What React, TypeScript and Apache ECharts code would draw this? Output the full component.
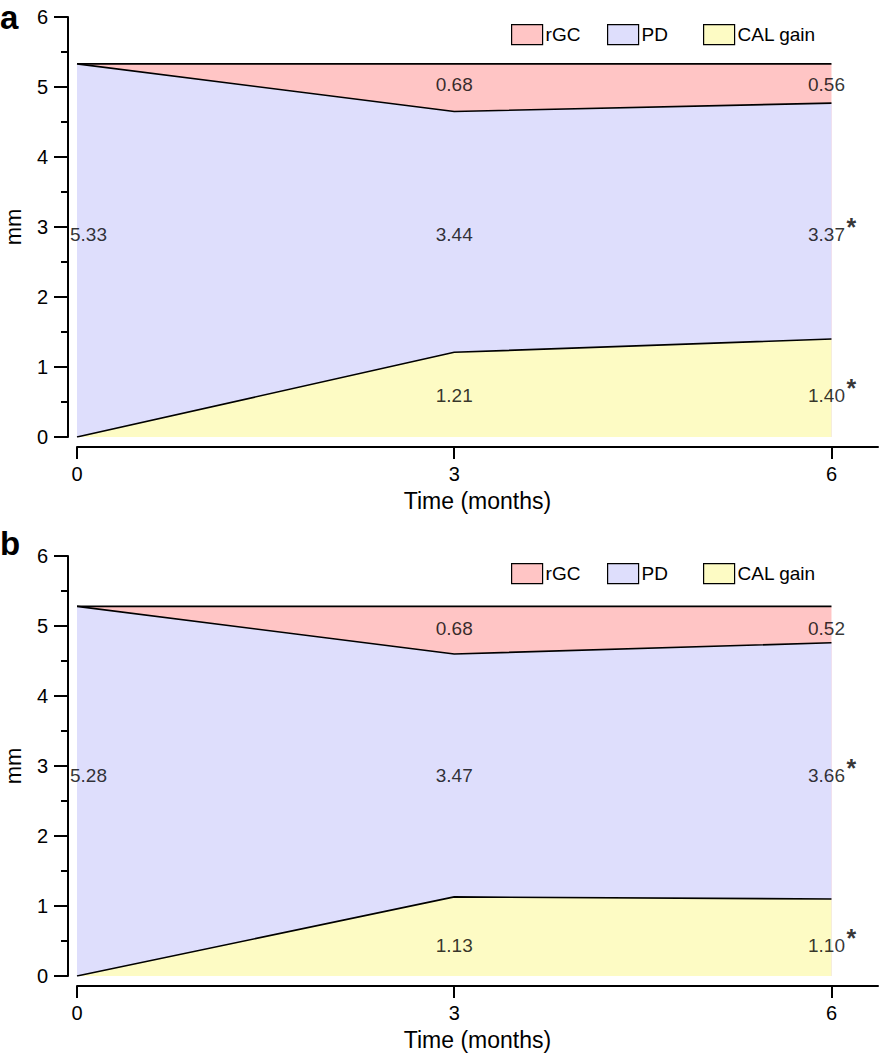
import React, { useEffect, useRef } from "react";
import * as echarts from "echarts";

const months = [0, 3, 6];
const xTicks = [0, 3, 6];
const seriesNames = ["rGC", "PD", "CAL gain"];

// Panel a
const calA = [0, 1.21, 1.4];
const pdA = [5.33, 3.44, 3.37];
const rgcA = [0, 0.68, 0.56];
// Panel b
const calB = [0, 1.13, 1.1];
const pdB = [5.28, 3.47, 3.66];
const rgcB = [0, 0.68, 0.52];

// significance marks (month index with asterisk)
const sigPdA = [false, false, true];
const sigCalA = [false, false, true];
const sigPdB = [false, false, true];
const sigCalB = [false, false, true];

// label rows (y value where each band's numbers are printed)
const labelRowsA = { rGC: 5.03, PD: 2.9, CAL: 0.6 };
const labelRowsB = { rGC: 4.97, PD: 2.87, CAL: 0.44 };

const COLORS = { rGC: "#ffc5c5", PD: "#dedefc", CAL: "#fdfbc4" };
const FONT = "'Liberation Sans', Arial, Helvetica, sans-serif";

const GRID_LEFT = 77;
const GRID_WIDTH = 801;
const GRID_H = 420;
const GRID_TOPS = [17, 556];
const LEGEND_LEFTS = [511, 607, 703];

function cumulative(...arrs: number[][]) {
  return months.map((_, i) => arrs.reduce((s, a) => s + a[i], 0));
}

function pairs(vals: number[]) {
  return months.map((m, i) => [m, +vals[i].toFixed(4)]);
}

function buildPanel(
  idx: number,
  cal: number[],
  pd: number[],
  rgc: number[],
  sigPd: boolean[],
  sigCal: boolean[],
  rows: { rGC: number; PD: number; CAL: number }
) {
  const lineStyle = { color: "#000", width: 1.6 };
  const common = {
    type: "line",
    xAxisIndex: idx,
    yAxisIndex: idx,
    symbol: "none",
    lineStyle,
    silent: true,
  };
  const series: any[] = [
    {
      ...common,
      name: "rGC",
      data: pairs(cumulative(cal, pd, rgc)),
      itemStyle: { color: COLORS.rGC },
      areaStyle: { color: COLORS.rGC, opacity: 1 },
      z: 2,
    },
    {
      ...common,
      name: "PD",
      data: pairs(cumulative(cal, pd)),
      itemStyle: { color: COLORS.PD },
      areaStyle: { color: COLORS.PD, opacity: 1 },
      z: 3,
    },
    {
      ...common,
      name: "CAL gain",
      data: pairs(cumulative(cal)),
      itemStyle: { color: COLORS.CAL },
      areaStyle: { color: COLORS.CAL, opacity: 1 },
      z: 4,
    },
  ];

  const labelItems: any[] = [];
  const star: any[] = [];
  const addRow = (vals: number[], y: number, sig: boolean[] | null) => {
    vals.forEach((v, i) => {
      if (v === 0) return;
      const last = i === months.length - 1;
      const first = i === 0;
      labelItems.push({
        value: [months[i], y],
        label: {
          formatter: v.toFixed(2),
          align: first ? "left" : "center",
          offset: first ? [-7, 0] : last ? [-5, 0] : [0, 0],
        },
      });
      if (sig && sig[i]) {
        star.push({ value: [months[i], y], label: { formatter: "*" } });
      }
    });
  };
  addRow(rgc, rows.rGC, null);
  addRow(pd, rows.PD, sigPd);
  addRow(cal, rows.CAL, sigCal);

  series.push({
    type: "scatter",
    xAxisIndex: idx,
    yAxisIndex: idx,
    symbolSize: 0,
    silent: true,
    z: 6,
    data: labelItems,
    label: {
      show: true,
      position: "inside",
      color: "#000",
      fontSize: 19,
      fontFamily: FONT,
      verticalAlign: "middle",
    },
  });
  series.push({
    type: "scatter",
    xAxisIndex: idx,
    yAxisIndex: idx,
    symbolSize: 0,
    silent: true,
    z: 6,
    data: star,
    label: {
      show: true,
      position: "inside",
      color: "#000",
      fontSize: 25,
      fontWeight: "bold",
      fontFamily: FONT,
      align: "left",
      verticalAlign: "middle",
      offset: [15, -7],
    },
  });
  return series;
}

export default function App() {
  const ref = useRef<HTMLDivElement>(null);
  useEffect(() => {
    if (!ref.current) return;
    const chart = echarts.init(ref.current, null, { renderer: "svg" });
    const axisLine = { show: true, onZero: false, lineStyle: { color: "#000", width: 2 } };
    const xAxes = GRID_TOPS.map((_, i) => ({
      type: "value",
      gridIndex: i,
      min: 0,
      max: 6.37,
      position: "bottom",
      offset: 10,
      axisLine,
      axisTick: {
        show: true,
        length: 12,
        customValues: xTicks,
        lineStyle: { color: "#000", width: 2 },
      },
      axisLabel: {
        customValues: xTicks,
        color: "#000",
        fontSize: 20,
        fontFamily: FONT,
        margin: 17,
      },
      splitLine: { show: false },
      name: "Time (months)",
      nameLocation: "middle",
      nameGap: 42,
      nameTextStyle: { color: "#000", fontSize: 23, fontFamily: FONT },
    }));
    const yAxes = GRID_TOPS.map((_, i) => ({
      type: "value",
      gridIndex: i,
      min: 0,
      max: 6,
      interval: 1,
      position: "left",
      offset: 9,
      axisLine,
      axisTick: {
        show: true,
        length: 14,
        lineStyle: { color: "#000", width: 2 },
      },
      minorTick: {
        show: true,
        splitNumber: 2,
        length: 7,
        lineStyle: { color: "#000", width: 2 },
      },
      axisLabel: {
        color: "#000",
        fontSize: 20,
        fontFamily: FONT,
        margin: 20,
      },
      splitLine: { show: false },
      minorSplitLine: { show: false },
      name: "mm",
      nameLocation: "middle",
      nameGap: 44,
      nameTextStyle: { color: "#000", fontSize: 22, fontFamily: FONT },
    }));
    const legendColors: Record<string, string> = {
      rGC: COLORS.rGC,
      PD: COLORS.PD,
      "CAL gain": COLORS.CAL,
    };
    const legends: any[] = [];
    GRID_TOPS.forEach((t) => {
      seriesNames.forEach((n, k) => {
        legends.push({
          left: LEGEND_LEFTS[k],
          top: t + 7,
          padding: 0,
          itemWidth: 31,
          itemHeight: 20,
          selectedMode: false,
          data: [
            {
              name: n,
              icon: "rect",
              itemStyle: { color: legendColors[n], borderColor: "#000", borderWidth: 1.2 },
            },
          ],
          textStyle: {
            color: "#000",
            fontSize: 19,
            fontFamily: FONT,
            padding: [0, 0, 0, -2],
          },
        });
      });
    });
    chart.setOption({
      animation: false,
      backgroundColor: "#fff",
      grid: GRID_TOPS.map((t) => ({
        left: GRID_LEFT,
        top: t,
        width: GRID_WIDTH,
        height: GRID_H,
        containLabel: false,
        outerBoundsMode: "none",
      })),
      xAxis: xAxes,
      yAxis: yAxes,
      legend: legends,
      graphic: [
        {
          type: "text",
          left: 0,
          top: 1,
          style: { text: "a", fontSize: 33, fontWeight: "bold", fontFamily: FONT, fill: "#000" },
        },
        {
          type: "text",
          left: 0,
          top: 527,
          style: { text: "b", fontSize: 33, fontWeight: "bold", fontFamily: FONT, fill: "#000" },
        },
      ],
      series: [
        ...buildPanel(0, calA, pdA, rgcA, sigPdA, sigCalA, labelRowsA),
        ...buildPanel(1, calB, pdB, rgcB, sigPdB, sigCalB, labelRowsB),
      ],
    });
    return () => chart.dispose();
  }, []);
  return (
    <div
      ref={ref}
      style={{ position: "absolute", left: 0, top: 0, width: 896, height: 1056 }}
    />
  );
}
